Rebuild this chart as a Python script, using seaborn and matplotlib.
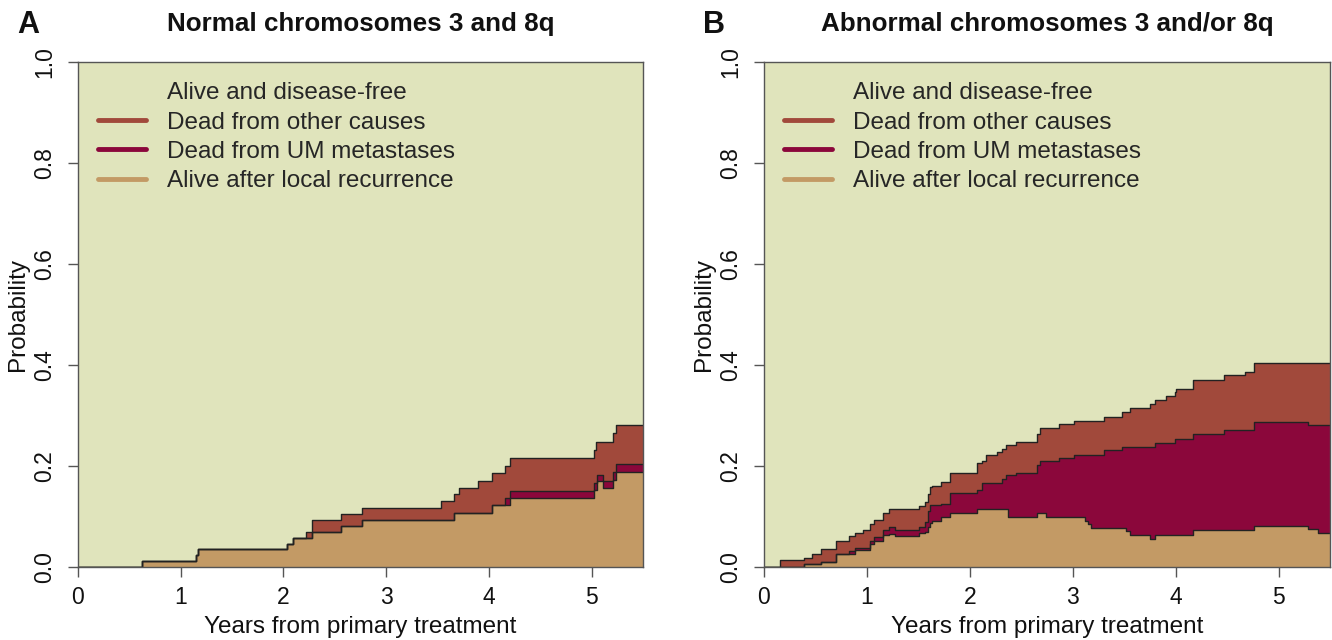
import numpy as np
import matplotlib
matplotlib.use("Agg")
import matplotlib.pyplot as plt
from matplotlib.lines import Line2D
import seaborn as sns

# ---------------- data (state probabilities, step functions) ----------------
states = ["Alive after local recurrence", "Dead from UM metastases", "Dead from other causes"]
legend_labels = ["Alive and disease-free", "Dead from other causes",
                 "Dead from UM metastases", "Alive after local recurrence"]
titles = ["Normal chromosomes 3 and 8q", "Abnormal chromosomes 3 and/or 8q"]
panel_letters = ["A", "B"]

a_time = [0, 0.62, 1.15, 1.17, 2.03, 2.09, 2.22, 2.28, 2.56, 2.76, 3.53, 3.66,
          3.71, 3.89, 4.03, 4.16, 4.21, 5.02, 5.04, 5.05, 5.11, 5.21, 5.24, 5.5]
a_recur = [0, .012, .023, .035, .046, .058, .058, .069, .081, .094, .094, .106,
           .106, .106, .122, .122, .136, .152, .152, .170, .156, .173, .188, .188]
a_meta = [0, 0, 0, 0, 0, 0, 0, 0, 0, 0, 0, 0,
          0, 0, 0, .014, .014, .015, .015, .013, .014, .015, .015, .015]
a_other = [0, 0, 0, 0, 0, 0, .011, .025, .023, .023, .037, .038,
           .051, .065, .064, .064, .065, .065, .081, .065, .078, .077, .079, .079]

b_time = [0, .16, .39, .47, .55, .70, .83, .88, .96, 1.03, 1.07, 1.16, 1.21, 1.27,
          1.51, 1.56, 1.59, 1.61, 1.63, 1.72, 1.81, 2.07, 2.12, 2.16, 2.26, 2.31,
          2.35, 2.37, 2.45, 2.65, 2.68, 2.74, 2.87, 3.01, 3.12, 3.15, 3.18, 3.30,
          3.48, 3.52, 3.56, 3.75, 3.80, 3.91, 3.99, 4.00, 4.17, 4.47, 4.67, 4.76,
          5.29, 5.38, 5.5]
b_recur = [0, 0, .005, .005, .010, .025, .025, .033, .033, .045, .052, .063, .065, .061,
           .067, .070, .080, .088, .092, .099, .107, .114, .114, .114, .114, .114,
           .114, .100, .100, .107, .107, .099, .099, .099, .092, .086, .078, .078,
           .078, .071, .064, .056, .064, .064, .064, .064, .073, .073, .073, .081,
           .075, .067, .067]
b_meta = [0, 0, 0, 0, 0, 0, .007, .004, .004, .007, .008, .010, .014, .012,
          .012, .019, .030, .034, .030, .026, .040, .039, .052, .052, .052, .061,
          .068, .082, .087, .094, .102, .110, .116, .123, .130, .136, .144, .153,
          .160, .167, .174, .182, .182, .182, .190, .190, .190, .199, .199, .207,
          .206, .214, .214]
b_other = [0, .013, .013, .021, .026, .027, .029, .030, .037, .034, .034, .034, .035, .041,
           .041, .040, .035, .036, .038, .043, .040, .052, .044, .055, .062, .059,
           .059, .059, .061, .063, .066, .066, .068, .068, .068, .068, .068, .067,
           .069, .069, .076, .084, .084, .092, .093, .099, .108, .108, .115, .116,
           .123, .123, .123]

x_ticks = [0, 1, 2, 3, 4, 5]
y_ticks = [0.0, 0.2, 0.4, 0.6, 0.8, 1.0]

# ---------------- style ----------------
c_alive = "#E0E4BC"
c_other = "#A1493B"
c_meta = "#8B073B"
c_recur = "#C39A65"
c_edge = "#222222"
c_axis = "#555555"

sns.set_theme(style="ticks")
plt.rcParams["font.family"] = ["Liberation Sans", "DejaVu Sans"]

fig = plt.figure(figsize=(13.32, 6.4), dpi=100)
ax_pos = [[78 / 1332, 1 - 567 / 640, 565 / 1332, 505 / 640],
          [764 / 1332, 1 - 567 / 640, 566 / 1332, 505 / 640]]

panels = [(a_time, a_recur, a_meta, a_other), (b_time, b_recur, b_meta, b_other)]

for k, (t, rec, met, oth) in enumerate(panels):
    ax = fig.add_axes(ax_pos[k])
    t = np.asarray(t)
    stack = np.cumsum(np.vstack([rec, met, oth]), axis=0)
    ax.set_facecolor(c_alive)
    lower = np.zeros_like(t, dtype=float)
    for layer, col in zip(stack, [c_recur, c_meta, c_other]):
        ax.fill_between(t, lower, layer, step="post", color=col, lw=0, zorder=1)
        lower = layer
    for layer in stack:
        sns.lineplot(x=t, y=layer, drawstyle="steps-post", color=c_edge, lw=1.0,
                     ax=ax, zorder=2, sort=False, estimator=None)

    ax.set_xlim(0, 5.5)
    ax.set_ylim(0, 1)
    ax.set_xticks(x_ticks)
    ax.set_yticks(y_ticks)
    ax.set_yticklabels([f"{v:.1f}" for v in y_ticks], rotation=90, va="center")
    ax.tick_params(axis="both", length=7, width=1, color=c_axis, labelsize=16.5,
                   labelcolor="#111111")
    ax.tick_params(axis="x", pad=7)
    ax.tick_params(axis="y", pad=9)
    for s in ax.spines.values():
        s.set_color(c_axis)
        s.set_linewidth(1.0)
        s.set_zorder(3)
    ax.set_xlabel("Years from primary treatment", fontsize=17.5, color="#111111", labelpad=5)
    ax.set_ylabel("Probability", fontsize=17.5, color="#111111", labelpad=3)
    ax.set_title(titles[k], fontsize=18.7, fontweight="bold", pad=22, color="#111111")

    handles = [Line2D([], [], color=c_alive, lw=3.5),
               Line2D([], [], color=c_other, lw=3.5),
               Line2D([], [], color=c_meta, lw=3.5),
               Line2D([], [], color=c_recur, lw=3.5)]
    ax.legend(handles, legend_labels, loc="upper left", bbox_to_anchor=(0.035, 0.96),
              frameon=False, fontsize=17.5, handlelength=2.0, handletextpad=0.85,
              labelspacing=0.3, borderpad=0, borderaxespad=0)

    fig.text(ax_pos[k][0] - 0.0375, 0.961, panel_letters[k], fontsize=22,
             fontweight="bold", ha="center", va="center", color="#111111")

fig.savefig("out.png", dpi=100)
